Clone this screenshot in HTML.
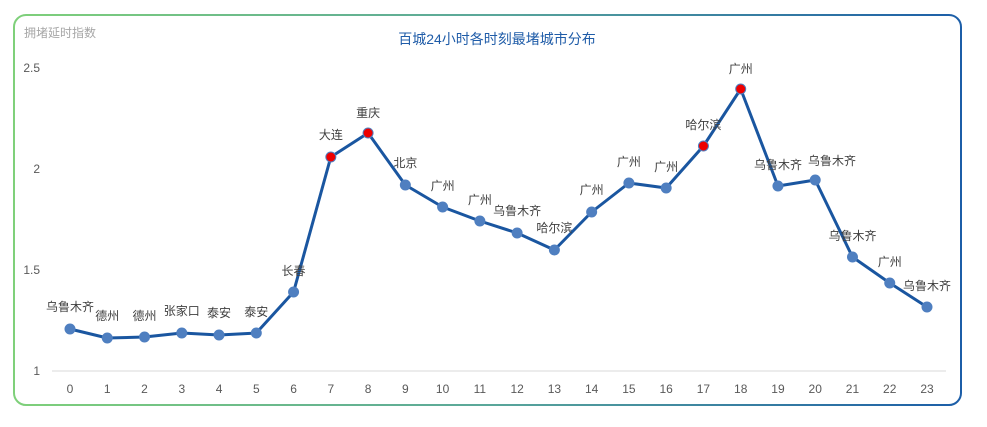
<!DOCTYPE html>
<html><head><meta charset="utf-8"><style>
body{margin:0;background:#fff;}
svg{display:block;font-family:"Liberation Sans","Noto Sans CJK SC",sans-serif;}
</style></head><body>
<svg width="987" height="427" viewBox="0 0 987 427">
<defs><linearGradient id="g" x1="0" x2="1" y1="0" y2="0">
<stop offset="0" stop-color="#7fd07a"/><stop offset="0.5" stop-color="#5aa79a"/><stop offset="1" stop-color="#1c5ea8"/></linearGradient></defs>
<rect x="14" y="15" width="947" height="390" rx="12" ry="12" fill="#fff" stroke="url(#g)" stroke-width="2"/>
<text x="24" y="37" font-size="12" fill="#a6a6a6">拥堵延时指数</text>
<text x="497" y="44" font-size="14" fill="#1f5ca8" text-anchor="middle">百城24小时各时刻最堵城市分布</text>
<g font-size="12" fill="#595959" text-anchor="end">
<text x="40" y="72">2.5</text><text x="40" y="173">2</text><text x="40" y="274">1.5</text><text x="40" y="375">1</text>
</g>
<line x1="52" y1="371" x2="946" y2="371" stroke="#d9d9d9" stroke-width="1"/>
<g font-size="12" fill="#595959" text-anchor="middle" id="xl"></g>
<polyline id="pl" fill="none" stroke="#1a56a0" stroke-width="3" stroke-linejoin="round"/>
<g id="pts"></g>
<g id="lbl" font-size="12" fill="#404040" text-anchor="middle"></g>
</svg>
<script>
var ys=[329,338,337,333,335,333,292,157,133,185,207,221,233,250,212,183,188,146,89,186,180,257,283,307];
var names=["乌鲁木齐","德州","德州","张家口","泰安","泰安","长春","大连","重庆","北京","广州","广州","乌鲁木齐","哈尔滨","广州","广州","广州","哈尔滨","广州","乌鲁木齐","乌鲁木齐","乌鲁木齐","广州","乌鲁木齐"];
var ly=[311,320,320,315,317,316,275,139,117,167,190,204,215,232,194,166,171,129,73,169,165,240,266,290];
var red=[7,8,17,18];
var ns="http://www.w3.org/2000/svg";
function X(i){return 70+i*857/23;}
var p=[];
for(var i=0;i<24;i++){
 p.push(X(i)+","+ys[i]);
 var t=document.createElementNS(ns,"text");t.setAttribute("x",X(i));t.setAttribute("y",393);t.textContent=i;document.getElementById("xl").appendChild(t);
 var c=document.createElementNS(ns,"circle");c.setAttribute("cx",X(i));c.setAttribute("cy",ys[i]);c.setAttribute("r",5);
 c.setAttribute("fill",red.indexOf(i)>=0?"#ee0000":"#4f7fc0");c.setAttribute("stroke","#4f7fc0");c.setAttribute("stroke-width","1");
 document.getElementById("pts").appendChild(c);
 var l=document.createElementNS(ns,"text");var lx=X(i);if(i==20)lx=832;if(i==0)lx=70;
 l.setAttribute("x",lx);l.setAttribute("y",ly[i]);l.textContent=names[i];document.getElementById("lbl").appendChild(l);
}
document.getElementById("pl").setAttribute("points",p.join(" "));
</script>
</body></html>
